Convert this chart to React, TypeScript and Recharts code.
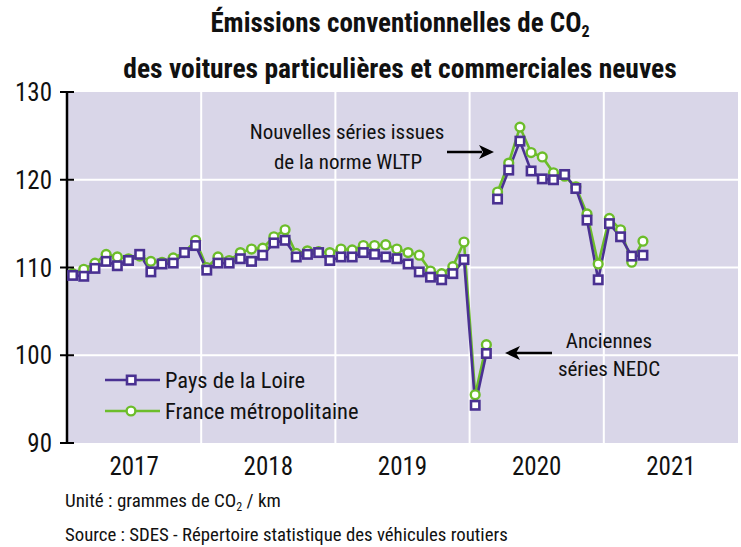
import React from 'react';
import { LineChart, Line, XAxis, YAxis, CartesianGrid, Legend } from 'recharts';

const FONT = "'Liberation Sans Narrow', 'Arial Narrow', 'Roboto Condensed', 'DejaVu Sans Condensed', sans-serif";
const PURPLE = '#4a3192';
const GREEN = '#6cbd2a';
const BG = '#d9d6e8';

const years = ['2017', '2018', '2019', '2020', '2021'];
const yearCenters = [6, 18, 30, 42, 54];
const yearBounds = [0, 12, 24, 36, 48, 60];
const yTicks = [90, 100, 110, 120, 130];

// Monthly values, Jan 2017 - Feb 2020 (NEDC)
const pdlNEDC = [
  109.1, 109.0, 109.9, 110.7, 110.2, 110.8, 111.5, 109.5, 110.4, 110.5, 111.7, 112.5,
  109.7, 110.5, 110.5, 111.0, 110.7, 111.4, 112.8, 113.1, 111.2, 111.5, 111.7, 110.8,
  111.2, 111.2, 111.7, 111.5, 111.2, 111.0, 110.4, 109.5, 108.9, 108.6, 109.3, 110.9,
  94.3, 100.2,
];
const franceNEDC = [
  109.3, 109.8, 110.5, 111.5, 111.2, 111.0, 111.3, 110.7, 110.6, 111.1, 111.7, 113.1,
  110.0, 111.2, 110.8, 111.7, 112.1, 112.2, 113.5, 114.3, 111.6, 111.9, 111.8, 111.7,
  112.1, 112.0, 112.5, 112.5, 112.6, 112.1, 111.7, 111.4, 109.6, 109.3, 110.1, 112.9,
  95.5, 101.2,
];
// Monthly values, Mar 2020 - Apr 2021 (WLTP)
const pdlWLTP = [117.8, 121.1, 124.4, 121.0, 120.1, 120.0, 120.6, 119.0, 115.4, 108.6, 115.0, 113.5, 111.3, 111.4];
const franceWLTP = [118.6, 121.9, 126.0, 123.1, 122.6, 120.8, 120.4, 119.2, 116.1, 110.4, 115.6, 114.3, 110.6, 113.0];

const nOld = pdlNEDC.length;
const nAll = nOld + pdlWLTP.length;
const data = Array.from({ length: nAll }, (_, i) => ({
  m: i + 0.5,
  pdlOld: i < nOld ? pdlNEDC[i] : null,
  frOld: i < nOld ? franceNEDC[i] : null,
  pdlNew: i >= nOld ? pdlWLTP[i - nOld] : null,
  frNew: i >= nOld ? franceWLTP[i - nOld] : null,
}));

const SquareDot = (props: any) => {
  const { cx, cy, index } = props;
  if (cx == null || cy == null || props.value == null) return <g key={`s${index}`} />;
  return <rect key={`s${index}`} x={cx - 4.2} y={cy - 4.2} width={8.4} height={8.4} fill="#fff" stroke={PURPLE} strokeWidth={2.6} />;
};
const CircleDot = (props: any) => {
  const { cx, cy, index } = props;
  if (cx == null || cy == null || props.value == null) return <g key={`c${index}`} />;
  return <circle key={`c${index}`} cx={cx} cy={cy} r={4.4} fill="#fff" stroke={GREEN} strokeWidth={2.4} />;
};

const XTickMark = (props: any) => {
  const { x, y } = props;
  return <line x1={x} x2={x} y1={y - 7} y2={y + 7} stroke="#000" strokeWidth={2} />;
};
const XYearLabel = (props: any) => {
  const { x, y, payload } = props;
  return (
    <text x={x} y={y + 13} dy="0.74em" textAnchor="middle" fontFamily={FONT} fontSize={25} fill="#111">
      {years[yearCenters.indexOf(payload.value)]}
    </text>
  );
};
const YTick = (props: any) => {
  const { x, y, payload } = props;
  return (
    <g>
      <line x1={x - 7} x2={x + 7} y1={y} y2={y} stroke="#000" strokeWidth={2} />
      <text x={x - 15} y={y} dy="0.36em" textAnchor="end" fontFamily={FONT} fontSize={25} fill="#111">
        {payload.value}
      </text>
    </g>
  );
};

const LegendBox = () => (
  <svg width={270} height={64} style={{ display: 'block' }}>
    <line x1={0} x2={55} y1={14} y2={14} stroke={PURPLE} strokeWidth={2.6} />
    <rect x={22} y={9.8} width={8.4} height={8.4} fill="#fff" stroke={PURPLE} strokeWidth={2.6} />
    <text x={60} y={14} dy="0.36em" fontFamily={FONT} fontSize={22.5} fill="#111">Pays de la Loire</text>
    <line x1={0} x2={55} y1={45} y2={45} stroke={GREEN} strokeWidth={2.6} />
    <circle cx={26} cy={45} r={4.4} fill="#fff" stroke={GREEN} strokeWidth={2.4} />
    <text x={60} y={45} dy="0.36em" fontFamily={FONT} fontSize={22.5} fill="#111">France métropolitaine</text>
  </svg>
);

export default function App() {
  return (
    <div style={{ position: 'absolute', left: 0, top: 0, width: 741, height: 547, background: '#fff' }}>
      <LineChart width={741} height={547} data={data} margin={{ top: 92, right: 3, bottom: 64, left: 0 }}>
        <CartesianGrid
          xAxisId="grid"
          fill={BG}
          fillOpacity={1}
          stroke="#fff"
          strokeWidth={2}
          horizontalValues={[100, 110, 120]}
          verticalValues={[12, 24, 36, 48]}
        />
        <XAxis
          xAxisId="grid"
          type="number"
          dataKey="m"
          domain={[0, 60]}
          ticks={yearBounds}
          interval={0}
          height={0}
          tickSize={0}
          tickMargin={0}
          tickLine={false}
          tick={<XTickMark />}
          axisLine={{ stroke: '#000', strokeWidth: 2.5 }}
        />
        <XAxis
          xAxisId="lab"
          type="number"
          dataKey="m"
          domain={[0, 60]}
          ticks={yearCenters}
          interval={0}
          height={40}
          tickSize={0}
          tickMargin={0}
          tickLine={false}
          axisLine={false}
          tick={<XYearLabel />}
        />
        <YAxis
          type="number"
          domain={[90, 130]}
          ticks={yTicks}
          interval={0}
          width={67}
          tickSize={0}
          tickMargin={0}
          tickLine={false}
          tick={<YTick />}
          axisLine={{ stroke: '#000', strokeWidth: 2.5 }}
        />
        <Legend
          layout="vertical"
          align="center"
          verticalAlign="middle"
          content={() => <LegendBox />}
          wrapperStyle={{ position: 'absolute', left: 105, top: 366, width: 270, height: 64 }}
        />
        <Line xAxisId="grid" dataKey="frOld" stroke={GREEN} strokeWidth={2.6} dot={CircleDot} connectNulls={false} isAnimationActive={false} />
        <Line xAxisId="grid" dataKey="frNew" stroke={GREEN} strokeWidth={2.6} dot={CircleDot} connectNulls={false} isAnimationActive={false} />
        <Line xAxisId="grid" dataKey="pdlOld" stroke={PURPLE} strokeWidth={2.6} dot={SquareDot} connectNulls={false} isAnimationActive={false} />
        <Line xAxisId="grid" dataKey="pdlNew" stroke={PURPLE} strokeWidth={2.6} dot={SquareDot} connectNulls={false} isAnimationActive={false} />
      </LineChart>
      <svg width={741} height={547} style={{ position: 'absolute', left: 0, top: 0, pointerEvents: 'none' }}>
        <g fontFamily={FONT} fill="#111">
          <text x={400} y={32} textAnchor="middle" fontSize={27} fontWeight="bold">
            Émissions conventionnelles de CO<tspan fontSize={16} dy={5}>2</tspan>
          </text>
          <text x={400} y={78} textAnchor="middle" fontSize={27.5} fontWeight="bold">
            des voitures particulières et commerciales neuves
          </text>
          <text x={347} y={139} textAnchor="middle" fontSize={21}>Nouvelles séries issues</text>
          <text x={348} y={169} textAnchor="middle" fontSize={21}>de la norme WLTP</text>
          <text x={609} y={348} textAnchor="middle" fontSize={21}>Anciennes</text>
          <text x={609} y={376} textAnchor="middle" fontSize={21}>séries NEDC</text>
          <text x={65} y={507} fontSize={19}>
            Unité : grammes de CO<tspan fontSize={12} dy={4}>2</tspan><tspan dy={-4}> / km</tspan>
          </text>
          <text x={65} y={541} fontSize={18.8}>Source : SDES - Répertoire statistique des véhicules routiers</text>
        </g>
        <line x1={447} x2={482} y1={152} y2={152} stroke="#000" strokeWidth={2.5} />
        <polygon points="494,152 479,145 483,152 479,159" fill="#000" />
        <line x1={552} x2={516} y1={353} y2={353} stroke="#000" strokeWidth={2.5} />
        <polygon points="505,353 520,346 516,353 520,360" fill="#000" />
      </svg>
    </div>
  );
}
